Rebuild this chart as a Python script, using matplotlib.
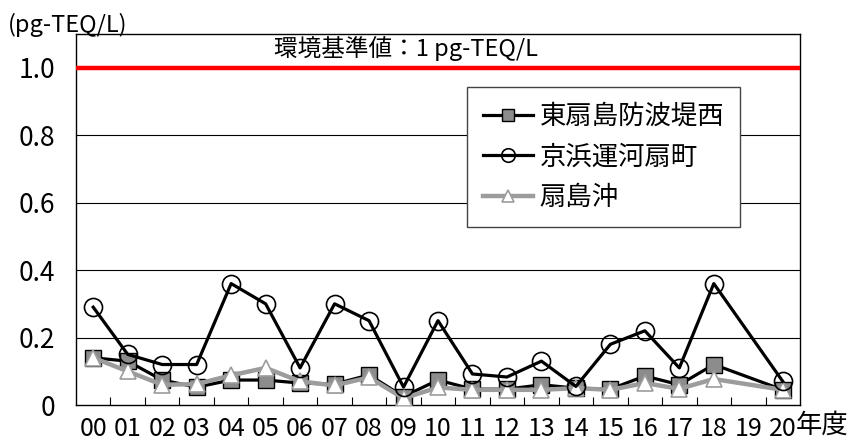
import numpy as np
import matplotlib.pyplot as plt
from matplotlib.ticker import FixedLocator

plt.rcParams['font.family'] = ['Noto Sans CJK JP', 'DejaVu Sans']

# 年度ラベル (00〜20)、19年度は欠測
years = ['%02d' % i for i in range(21)]
x_years = [0, 1, 2, 3, 4, 5, 6, 7, 8, 9, 10, 11, 12, 13, 14, 15, 16, 17, 18, 20]

higashi = [0.14, 0.13, 0.074, 0.053, 0.074, 0.074, 0.065, 0.062, 0.089, 0.025,
           0.074, 0.047, 0.047, 0.06, 0.05, 0.047, 0.086, 0.06, 0.12, 0.045]
keihin = [0.29, 0.15, 0.12, 0.12, 0.36, 0.30, 0.11, 0.30, 0.25, 0.053,
          0.25, 0.092, 0.083, 0.13, 0.055, 0.18, 0.22, 0.11, 0.36, 0.07]
ogishima = [0.14, 0.10, 0.06, 0.062, 0.088, 0.11, 0.07, 0.058, 0.082, 0.02,
            0.052, 0.045, 0.045, 0.045, 0.05, 0.045, 0.065, 0.048, 0.077, 0.045]

standard = 1.0

W, H = 849, 444
fig = plt.figure(figsize=(W / 100, H / 100), dpi=100)
ax = fig.add_axes([76 / W, 1 - 405 / H, (800 - 76) / W, (405 - 34) / H])

ax.plot(x_years, higashi, color='black', lw=2.3, marker='s', ms=12,
        mfc='#8c8c8c', mec='black', mew=1.0, label='東扇島防波堤西', zorder=3)
ax.plot(x_years, keihin, color='black', lw=2.3, marker='o', ms=13,
        mfc='none', mec='black', mew=1.2, label='京浜運河扇町', zorder=4)
ax.plot(x_years, ogishima, color='#9c9c9c', lw=3.2, marker='^', ms=11,
        mfc='white', mec='#9c9c9c', mew=1.2, label='扇島沖', zorder=3.5)

ax.axhline(standard, color='#ff0000', lw=3.2, zorder=5)
fig.text(406 / W, 1 - 49 / H, '環境基準値：1 pg-TEQ/L', ha='center', va='center', fontsize=17)

ax.set_xlim(-0.5, 20.5)
ax.set_ylim(0, 1.1)

ax.set_yticks([0, 0.2, 0.4, 0.6, 0.8, 1.0])
ax.set_yticklabels(['0', '0.2', '0.4', '0.6', '0.8', '1.0'], fontsize=19)
ax.tick_params(axis='y', length=0, pad=15)
for y in [0.2, 0.4, 0.6, 0.8]:
    ax.axhline(y, color='black', lw=0.8, zorder=1)

ax.set_xticks(range(21))
ax.set_xticklabels(years, fontsize=18)
ax.tick_params(axis='x', which='major', length=0, pad=8)
ax.xaxis.set_minor_locator(FixedLocator(np.arange(0.5, 20, 1)))
ax.tick_params(axis='x', which='minor', direction='in', length=6, width=0.8)

for s in ax.spines.values():
    s.set_color('black')
    s.set_linewidth(1.0)

fig.text(796 / W, 1 - 425 / H, '年度', fontsize=19, ha='left', va='center')
fig.text(8 / W, 1 - 25 / H, '(pg-TEQ/L)', fontsize=17, ha='left', va='center')

leg = ax.legend(loc='upper left', bbox_to_anchor=(467 / W, 1 - 87 / H),
                bbox_transform=fig.transFigure, borderaxespad=0, fontsize=19,
                frameon=True, fancybox=False, edgecolor='#444444', framealpha=1,
                handlelength=1.9, handletextpad=0.25, labelspacing=0.52,
                borderpad=0.6, markerscale=0.75)
leg.get_frame().set_linewidth(1.0)

fig.savefig('out.png', dpi=100)
